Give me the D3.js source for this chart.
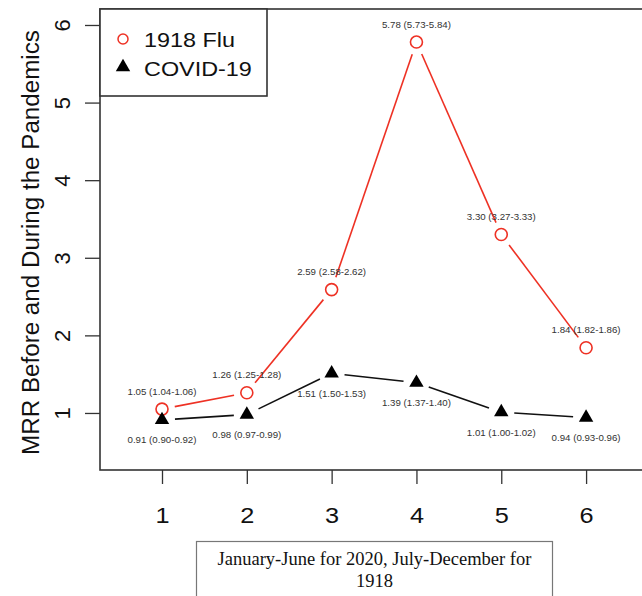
<!DOCTYPE html>
<html>
<head>
<meta charset="utf-8">
<script src="https://cdn.jsdelivr.net/npm/d3@7"></script>
<style>
  body { margin: 0; background: #fff; }
  svg { display: block; }
</style>
</head>
<body>
<div id="chart"></div>
<script>
// data
const months = [1, 2, 3, 4, 5, 6];
const fluValues = [1.05, 1.26, 2.59, 5.78, 3.30, 1.84];
const fluLabels = ['1.05 (1.04-1.06)', '1.26 (1.25-1.28)', '2.59 (2.58-2.62)',
  '5.78 (5.73-5.84)', '3.30 (3.27-3.33)', '1.84 (1.82-1.86)'];
const covidValues = [0.91, 0.98, 1.51, 1.39, 1.01, 0.94];
const covidLabels = ['0.91 (0.90-0.92)', '0.98 (0.97-0.99)', '1.51 (1.50-1.53)',
  '1.39 (1.37-1.40)', '1.01 (1.00-1.02)', '0.94 (0.93-0.96)'];
const xTicks = [1, 2, 3, 4, 5, 6];
const yTicks = [1, 2, 3, 4, 5, 6];
const seriesNames = ['1918 Flu', 'COVID-19'];

const width = 642, height = 596;
const red = '#ee3124';
const ink = '#333';
const sans = '"Liberation Sans", Arial, sans-serif';
const serif = '"Liberation Serif", "Times New Roman", serif';

const svg = d3.select('#chart').append('svg')
  .attr('width', width)
  .attr('height', height);

svg.append('rect').attr('width', width).attr('height', height).attr('fill', '#fff');

const x = d3.scaleLinear().domain([0.269, 6.73]).range([100, 648]);
const y = d3.scaleLinear().domain([0.265, 6.206]).range([470, 9]);

// axes
const yAxis = svg.append('g')
  .attr('transform', `translate(${x.range()[0]},0)`)
  .call(d3.axisLeft(y).tickValues(yTicks).tickSize(15).tickFormat(d3.format('d')));
yAxis.select('.domain').remove();
yAxis.selectAll('line').attr('stroke', ink).attr('stroke-width', 1.3);
yAxis.selectAll('text')
  .attr('transform', 'rotate(-90)')
  .attr('x', 0).attr('y', -30).attr('dy', 0)
  .attr('text-anchor', 'middle')
  .attr('fill', '#111')
  .style('font-family', sans).style('font-size', '22px');

const xAxis = svg.append('g')
  .attr('transform', `translate(0,${y.range()[0]})`)
  .call(d3.axisBottom(x).tickValues(xTicks).tickSize(14).tickFormat(d3.format('d')));
xAxis.select('.domain').remove();
xAxis.selectAll('line').attr('stroke', ink).attr('stroke-width', 1.3);
xAxis.selectAll('text')
  .attr('y', 53).attr('dy', 0)
  .attr('transform', 'scale(1.15,1)')
  .attr('fill', '#111')
  .style('font-family', sans).style('font-size', '22px');

// plot frame
svg.append('rect')
  .attr('x', x.range()[0]).attr('y', y.range()[1])
  .attr('width', x.range()[1] - x.range()[0])
  .attr('height', y.range()[0] - y.range()[1])
  .attr('fill', 'none').attr('stroke', ink).attr('stroke-width', 1.6);

// y title
svg.append('text')
  .attr('transform', `translate(39,${(y.range()[0] + y.range()[1]) / 2 + 3}) rotate(-90)`)
  .attr('text-anchor', 'middle')
  .attr('fill', '#111')
  .style('font-family', sans).style('font-size', '24.2px')
  .text('MRR Before and During the Pandemics');

// type="b" style lines: segments with a gap around each point
function gappedSegments(values, color) {
  const gap = 13;
  const pts = months.map((m, i) => [x(m), y(values[i])]);
  const segs = [];
  for (let i = 0; i < pts.length - 1; i++) {
    const [x0, y0] = pts[i], [x1, y1] = pts[i + 1];
    const len = Math.hypot(x1 - x0, y1 - y0);
    if (len <= 2 * gap) continue;
    const ux = (x1 - x0) / len, uy = (y1 - y0) / len;
    segs.push([x0 + ux * gap, y0 + uy * gap, x1 - ux * gap, y1 - uy * gap]);
  }
  svg.append('g').selectAll('line')
    .data(segs)
    .enter()
    .append('line')
    .attr('x1', d => d[0]).attr('y1', d => d[1])
    .attr('x2', d => d[2]).attr('y2', d => d[3])
    .attr('stroke', color)
    .attr('stroke-width', 1.6);
}

gappedSegments(fluValues, red);
gappedSegments(covidValues, '#111');

const triangle = d3.symbol().type(d3.symbolTriangle).size(90);

// flu points
svg.append('g').selectAll('circle')
  .data(months)
  .enter()
  .append('circle')
  .attr('cx', d => x(d))
  .attr('cy', (d, i) => y(fluValues[i]))
  .attr('r', 6)
  .attr('fill', '#fff')
  .attr('stroke', red)
  .attr('stroke-width', 1.6);

// covid points
svg.append('g').selectAll('path')
  .data(months)
  .enter()
  .append('path')
  .attr('d', triangle)
  .attr('transform', (d, i) => `translate(${x(d)},${y(covidValues[i])})`)
  .attr('fill', '#000');

// value labels
svg.append('g').selectAll('text')
  .data(months)
  .enter()
  .append('text')
  .attr('x', d => x(d))
  .attr('y', (d, i) => y(fluValues[i]) - 14.5)
  .attr('text-anchor', 'middle')
  .attr('fill', '#333')
  .style('font-family', sans).style('font-size', '9.7px')
  .text((d, i) => fluLabels[i]);

svg.append('g').selectAll('text')
  .data(months)
  .enter()
  .append('text')
  .attr('x', d => x(d))
  .attr('y', (d, i) => y(covidValues[i]) + 23.5)
  .attr('text-anchor', 'middle')
  .attr('fill', '#333')
  .style('font-family', sans).style('font-size', '9.7px')
  .text((d, i) => covidLabels[i]);

// legend
const legend = svg.append('g');
legend.append('rect')
  .attr('x', 100).attr('y', 9).attr('width', 167).attr('height', 87)
  .attr('fill', '#fff').attr('stroke', ink).attr('stroke-width', 1.6);
legend.append('circle')
  .attr('cx', 123).attr('cy', 39).attr('r', 5)
  .attr('fill', '#fff').attr('stroke', red).attr('stroke-width', 1.5);
legend.append('path')
  .attr('d', triangle)
  .attr('transform', 'translate(123,67)')
  .attr('fill', '#000');
legend.selectAll('text')
  .data(seriesNames)
  .enter()
  .append('text')
  .attr('transform', (d, i) => `translate(144,${47 + i * 29}) scale(1.17,1)`)
  .attr('fill', '#111')
  .style('font-family', sans).style('font-size', '20px')
  .text(d => d);

// x title box
svg.append('rect')
  .attr('x', 196.5).attr('y', 541.5).attr('width', 356).attr('height', 80)
  .attr('fill', '#fff').attr('stroke', '#777').attr('stroke-width', 1.2);
const xTitle = svg.append('text')
  .attr('text-anchor', 'middle')
  .attr('fill', '#111')
  .style('font-family', serif).style('font-size', '18.5px');
xTitle.append('tspan').attr('x', 374.5).attr('y', 565).text('January-June for 2020, July-December for');
xTitle.append('tspan').attr('x', 374.5).attr('y', 587).text('1918');
</script>
</body>
</html>
